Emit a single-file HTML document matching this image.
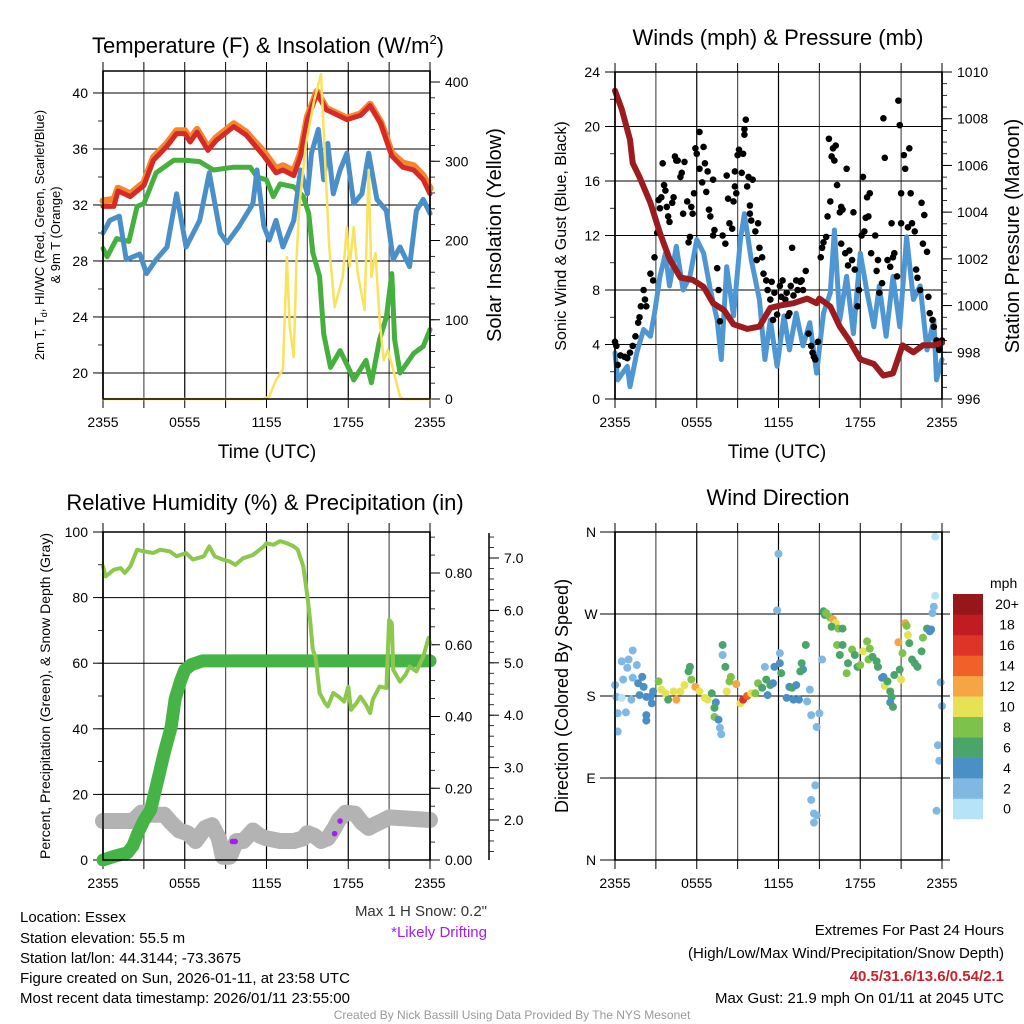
<!DOCTYPE html>
<html><head><meta charset="utf-8"><title>Essex Mesonet Meteogram</title>
<style>
html,body{margin:0;padding:0;background:#fff;}
svg{display:block;font-family:"Liberation Sans",Arial,sans-serif;}
</style></head>
<body>
<svg id="root" width="1024" height="1024" viewBox="0 0 1024 1024" xmlns="http://www.w3.org/2000/svg">
<rect width="1024" height="1024" fill="#fff"/>
<text x="268" y="53" font-size="22" text-anchor="middle">Temperature (F) &amp; Insolation (W/m<tspan font-size="13" dy="-9">2</tspan><tspan dy="9">)</tspan></text>
<text x="778" y="45" font-size="22" text-anchor="middle">Winds (mph) &amp; Pressure (mb)</text>
<text x="265" y="510" font-size="22" text-anchor="middle">Relative Humidity (%) &amp; Precipitation (in)</text>
<text x="778" y="505" font-size="22" text-anchor="middle">Wind Direction</text>
<text x="267" y="458" font-size="19" text-anchor="middle">Time (UTC)</text>
<text x="777" y="458" font-size="19" text-anchor="middle">Time (UTC)</text>
<text transform="translate(44,235) rotate(-90)" font-size="13" text-anchor="middle">2m T, T<tspan font-size="9" dy="3">d</tspan><tspan dy="-3">, HI/WC (Red, Green, Scarlet/Blue)</tspan></text>
<text transform="translate(60,235) rotate(-90)" font-size="13" text-anchor="middle">&amp; 9m T (Orange)</text>
<text transform="translate(501,235) rotate(-90)" font-size="20" text-anchor="middle">Solar Insolation (Yellow)</text>
<text transform="translate(566,236) rotate(-90)" font-size="16" text-anchor="middle">Sonic Wind &amp; Gust (Blue, Black)</text>
<text transform="translate(1019,236) rotate(-90)" font-size="20" text-anchor="middle">Station Pressure (Maroon)</text>
<text transform="translate(50,696) rotate(-90)" font-size="14" text-anchor="middle">Percent, Precipitation (Green), &amp; Snow Depth (Gray)</text>
<text transform="translate(568,696) rotate(-90)" font-size="18" text-anchor="middle">Direction (Colored By Speed)</text>
<g font-size="15">
<text x="20" y="922">Location: Essex</text>
<text x="20" y="943">Station elevation: 55.5 m</text>
<text x="20" y="963">Station lat/lon: 44.3144; -73.3675</text>
<text x="20" y="983">Figure created on Sun, 2026-01-11, at 23:58 UTC</text>
<text x="20" y="1003">Most recent data timestamp: 2026/01/11 23:55:00</text>
</g>
<text x="487" y="916" font-size="15" text-anchor="end" fill="#333">Max 1 H Snow: 0.2"</text>
<text x="487" y="937" font-size="15" text-anchor="end" fill="#a020f0">*Likely Drifting</text>
<g font-size="15" text-anchor="end">
<text x="1004" y="935">Extremes For Past 24 Hours</text>
<text x="1004" y="958">(High/Low/Max Wind/Precipitation/Snow Depth)</text>
<text x="1004" y="981" fill="#c8232a" font-weight="bold">40.5/31.6/13.6/0.54/2.1</text>
<text x="1004" y="1003">Max Gust: 21.9 mph On 01/11 at 2045 UTC</text>
</g>
<text x="512" y="1019" font-size="12" text-anchor="middle" fill="#999">Created By Nick Bassill Using Data Provided By The NYS Mesonet</text>
</svg>
<script>
const xTickLabels=["2355","0555","1155","1755","2355"];
const tempYTicks=[20,24,28,32,36,40];
const solarTicks=[0,100,200,300,400];
const windTicks=[0,4,8,12,16,20,24];
const presTicks=[996,998,1000,1002,1004,1006,1008,1010];
const rhTicks=[0,20,40,60,80,100];
const precipTicks=[0.00,0.20,0.40,0.60,0.80];
const snowTicks=[2.0,3.0,4.0,5.0,6.0,7.0];
const dirTickLabels=["N","E","S","W","N"];
const dirTicks=[0,90,180,270,360];
const legendLabels=["0","2","4","6","8","10","12","14","16","18","20+"];
const legendColors=["#b6e3f6","#7fb9e3","#4a8fc6","#4aa56a","#7dc24a","#e7e155","#f6a544","#ef6128","#dd3427","#c01c22","#96161a"];

const redH=[0,0.8,1.1,2,3,3.7,4.7,5.4,6,6.4,6.9,7.7,8.3,9.6,10.5,11.8,12.7,13.2,14,14.5,15,15.7,16.4,17.9,18.9,19.6,20.4,21.2,22,22.8,23.5,24];
const redT=[31.9,31.9,33,32.6,33.4,35.2,36.2,37.1,37.1,36.5,37.2,35.9,36.6,37.6,37,35.5,34.3,34.5,34.1,35.5,38.1,40,38.8,38.1,38.4,39.1,37.8,35.5,34.7,34.5,33.8,32.8];
const orangeT=[32.3,32.4,33.2,32.8,33.6,35.4,36.4,37.3,37.3,36.7,37.4,36.1,36.8,37.8,37.2,35.8,34.6,34.8,34.4,35.7,38.3,40.1,38.9,38.2,38.5,39.2,37.9,35.7,35,34.8,34.1,33.2];
const greenH=[0,0.3,1,1.9,2.5,3,3.9,5.2,6,7.1,8.1,9.6,10.8,11.3,12,12.5,13,14,14.7,15.1,15.4,15.9,16.2,16.7,17.4,18.1,18.4,19.3,19.7,20.3,20.8,21.2,21.4,21.8,22.8,23.5,24];
const greenT=[28.9,28.3,29.6,29.4,31.9,32.1,34.3,35.2,35.2,35.1,34.5,34.7,34.7,34,33.8,32.6,33.5,33.3,32.6,31.4,28.6,26.9,22.8,20.4,21.6,20.2,19.5,20.9,19.3,22.4,24,27.1,22.4,20,21.4,21.9,23.1];
const blueH=[0,0.5,1.2,1.7,2.7,3.2,3.9,4.7,5.4,6.1,7.1,7.8,8.6,9.1,10,11,11.3,11.8,12.2,12.7,13.2,14,14.5,15,15.3,15.8,16.2,16.5,16.9,17.4,17.9,18.4,19,19.5,20.1,20.8,21.3,21.8,22.5,23,23.5,24];
const blueT=[30,30.9,31.2,28.1,28.5,27.1,28.1,29,32.8,29,30.9,34.3,30,29.3,30.5,32.1,34.5,30.5,29.5,30.9,29,30.9,34.5,32.8,35.7,37.4,33.8,36.4,32.8,34.5,35.7,32.1,32.8,35.7,32.4,31.6,28.1,29,27.6,31.6,32.4,31.4];
const solarH=[0,11.7,12.2,12.7,13.2,13.5,13.7,14,14.2,14.4,14.9,15.5,16,16.3,16.6,17,17.6,17.9,18.1,18.4,18.7,19.2,19.5,19.7,20,20.3,20.6,20.9,21.3,21.8,22,24];
const solarW=[0,0,3,24,37,179,91,53,175,242,322,377,410,301,192,116,154,217,167,217,158,112,289,154,184,100,49,62,37,3,0,0];

const presH=[0,0.5,1.1,1.3,1.8,2.6,3.3,4,4.8,5.7,6.5,7.2,8,8.7,9.7,10.6,11.4,12.1,13.1,14.1,14.8,15,15.8,16.5,17.2,18,19,19.7,20.4,21.1,21.9,22.6,23.4,24];
const presMb=[1009.2,1008.4,1007.1,1006.1,1005.5,1004.4,1003.1,1002,1001.2,1001.1,1000.8,1000.1,999.8,999.2,999,999.1,999.9,1000,1000.1,1000.3,1000.1,1000.3,999.96,999.1,998.5,997.7,997.5,997,997.1,998.3,998,998.3,998.3,998.4];
const sonicH=[0,0.2,0.9,1.1,1.6,2.1,2.6,2.9,3.3,3.7,4,4.5,5,5.5,6,6.5,7,7.5,7.8,8.2,8.7,9.2,9.5,10,10.6,11,11.4,11.9,12.4,12.8,13.3,13.8,14.3,14.8,15.3,15.8,16.1,16.5,17,17.5,18,18.5,19,19.4,19.9,20.4,20.9,21.4,21.9,22.4,22.9,23.4,23.6,24];
const sonicMph=[3.4,1.4,2.4,0.9,3.4,5.1,4.6,6.3,9,10.7,8.3,11.2,8,9,11.7,10.7,8,5.8,2.9,9.7,6.1,11.7,13.6,10.2,7.3,2.9,5.8,2.4,6.1,3.6,6.3,3.9,5.6,1.9,6.3,7.8,12.4,5.8,9,4.8,10.7,7.8,5.3,8.3,4.6,9,5.3,11.9,7.3,8.3,3.6,5.8,1.4,2.9];
const gustH=[0,0.1,0.2,0.4,0.7,0.9,1.1,1.3,1.5,1.7,1.8,1.9,2.1,2.2,2.3,2.6,2.8,2.9,3.1,3.2,3.3,3.4,3.5,3.6,3.7,3.8,3.9,4,4.2,4.3,4.4,4.5,4.6,4.8,4.9,5,5.1,5.3,5.4,5.5,5.6,5.7,5.8,5.9,6,6.2,6.2,6.4,6.5,6.6,6.7,6.8,6.9,7,7.2,7.2,7.3,7.5,7.6,7.7,7.9,8.1,8.2,8.3,8.4,8.6,8.7,8.8,8.8,8.9,9,9.1,9.3,9.4,9.5,9.5,9.6,9.7,9.8,9.9,9.9,10,10.1,10.3,10.4,10.5,10.6,10.8,10.9,11.1,11.2,11.4,11.5,11.6,11.7,11.9,12.1,12.2,12.3,12.5,12.6,12.7,12.8,12.9,13,13.1,13.3,13.4,13.6,13.7,13.8,14,14.2,14.4,14.5,14.6,14.7,14.9,15.1,15.2,15.3,15.5,15.6,15.7,15.8,15.9,16,16.1,16.2,16.3,16.5,16.6,16.6,16.7,16.9,17,17.1,17.2,17.4,17.5,17.6,17.8,17.9,18.1,18.2,18.3,18.4,18.5,18.6,18.7,18.8,19.1,19.2,19.3,19.4,19.6,19.7,19.8,20,20.2,20.3,20.4,20.5,20.7,20.8,20.9,21,21,21.2,21.3,21.5,21.6,21.7,21.8,22,22.1,22.2,22.4,22.5,22.6,22.7,22.9,23,23.1,23.3,23.4,23.6,23.7,23.8,24];
const gustMph=[4.2,3.9,2.5,3.2,3.1,3,3.4,3.9,4.6,5.6,6,6.8,8,7.3,6.8,9.2,8.7,10.4,12.2,14.6,14,14.8,17.3,15.7,15.3,14.1,13.4,13,14.4,14.8,17.8,17.5,17.5,16.3,16.6,13.6,17.4,14.5,11.5,11.9,14.1,13.6,15.1,18.4,18,19.6,16.9,15.9,18.5,17.3,15.2,16.7,13.9,13.4,16.1,12,12.4,9.6,8,5.7,12,11.4,16.4,14.7,12.9,12.5,14.5,16.7,15.6,15.1,17.9,18.3,16.6,18,19.8,19.4,20.5,15.6,16.3,14.2,13.6,13.1,16.1,12.3,10.2,12.9,11.1,10.4,9.2,8.7,8,7.3,8.6,5.8,7.8,6.2,8.3,7.5,8.7,7.3,7.8,6.1,6.3,8.3,11.1,7.6,8.7,8,8.6,8.7,8,9.4,4.8,3.9,3.4,3.1,2.9,4.2,10.4,11.1,11.5,11.9,13.4,19.1,14.5,17.8,18.4,17.5,18.6,15.7,13.7,11.4,14.1,13.9,10.7,16.9,9.8,10.9,10.2,13.7,9.5,6.8,8,12,16.3,12.3,13.3,14.8,13.4,15.1,10.7,12,9.4,10.2,7.8,8.5,20.6,17.7,10.2,9.7,12.9,10.4,10.7,9,21.9,20.1,15.1,12.9,17.9,16.9,12.6,18.4,15.1,12.9,12.3,9.5,8.9,8,14.4,11.4,13.5,10.8,7.5,6.3,5.8,5.3,4.3,3.9,3.6,4.3];

const rhH=[0,0.2,0.8,1.3,1.6,2,2.5,3,3.7,4.2,4.9,5.4,6.1,6.6,7.4,7.8,8.2,8.8,9.3,9.7,10.3,11,11.8,12,12.5,13,13.5,14,14.3,14.7,15,15.2,15.4,15.6,15.9,16.3,16.5,16.9,17.3,17.7,18,18.2,18.6,18.9,19.3,19.6,19.8,20.3,20.8,21,21.2,21.3,21.8,22.2,22.5,23,23.5,23.9,24];
const rhPct=[89.5,86.5,88.5,89,87.5,89.5,94.6,94.1,93.6,94.6,94.1,92.6,93.6,91.6,92.6,95.6,92.6,91.6,91,90,92,93,95.6,96.6,96.1,97.2,96.6,95.6,94.6,89.5,80.4,73.2,64.1,62,50.9,47.8,46.8,50.9,49.8,48.3,52.8,45.8,47.8,49.8,47.3,44.8,48.9,52.9,52.4,73.2,72.2,58,54.4,56.5,59,57.5,62,67.7,66];
const precipH=[0,0.8,1.8,2.2,2.5,3,3.5,4,4.5,5,5.3,5.7,6,6.5,7.3,24];
const precipIn=[0,0.01,0.02,0.04,0.07,0.11,0.14,0.22,0.3,0.37,0.45,0.5,0.53,0.545,0.555,0.555];
const snowH=[0,2.2,2.8,3.5,4.5,5,5.6,6.2,6.8,7.5,8,8.5,8.8,9.3,9.8,10.3,11,11.5,12,13,14,14.7,15,15.5,16,16.5,17,17.3,17.8,18.5,19,19.5,20,20.5,21,24];
const snowIn=[1.98,1.98,2.14,2.1,2.1,1.95,1.8,1.75,1.6,1.85,1.9,1.65,1.3,1.3,1.6,1.6,1.8,1.7,1.65,1.6,1.6,1.65,1.75,1.7,1.6,1.65,1.85,2.0,2.14,2.12,1.95,1.85,1.92,1.98,2.05,2.0];
const driftH=[9.5,9.7,17,17.4];
const driftIn=[1.59,1.59,1.74,1.98];

const dirH=[0,0.1,0.2,0.2,0.5,0.6,0.5,0.8,0.9,1,1.2,1.3,1.3,1.6,1.7,2,2.1,1.8,2.3,2.3,2.3,2.7,2.8,2.6,3.2,3.4,3.7,3.9,4.3,4.5,4.8,5.1,5.4,5.5,5.6,5.9,6.2,6.6,6.8,7.1,7.4,7.3,7.3,7.6,7.7,7.8,7.9,7.9,8.1,8.2,8.5,8.4,8.9,9.2,9.4,9.7,10,10.3,10.5,10.8,11.1,11.4,11.6,11.2,11,11.7,12.1,12.1,12,11.9,12.2,12.6,12.8,13,13.1,13.3,13.5,13.7,13.8,13.6,14,14.3,14.1,14.4,14.8,15,15.2,14.7,14.4,14.6,14.6,14.8,15.3,15.4,15.5,15.8,16,16.2,15.9,16.4,16.7,16.3,16.5,16.7,17,17.1,17.4,17.6,17.8,18,18.2,18.5,18.7,18.6,18.9,19.2,19.3,19.6,19.7,19.8,20,20.2,20.3,20.2,20.4,20.5,20.8,20.9,21,21.1,21.3,21.4,21.5,21.6,21.8,22,22.2,22.5,22.6,22.9,23.1,23.2,23.3,23.4,23.5,23.5,23.9,24,23.7,23.8,23.6];
const dirDeg=[192,179,161,141,218,198,178,162,211,220,176,230,200,214,194,201,190,181,179,159,153,172,185,179,196,187,183,176,185,176,185,192,207,212,198,190,185,178,176,183,173,167,157,154,145,138,225,236,212,185,201,196,193,172,176,180,183,183,194,189,198,192,194,181,212,212,216,227,336,274,205,178,190,189,176,192,176,216,209,207,236,187,174,159,146,161,220,82,66,51,41,49,273,269,271,266,264,260,256,254,254,236,225,236,205,216,231,225,212,214,229,240,232,220,223,218,212,200,201,191,196,185,179,173,168,203,239,209,198,227,260,257,247,238,220,216,212,229,244,254,251,253,271,278,290,355,195,169,126,109,54];
const dirSpd=[2,2,2,2,2,2,0,2,2,2,2,2,2,2,4,4,4,4,4,4,4,4,4,4,8,10,10,6,10,12,10,10,6,6,8,13,10,10,10,6,4,6,8,4,2,2,2,6,6,10,8,8,12,10,16,14,10,8,8,6,6,6,4,4,2,4,4,2,2,2,6,4,4,6,4,4,4,6,4,6,6,2,2,2,2,2,2,2,2,2,2,2,6,6,8,8,12,10,6,8,6,8,6,6,8,6,8,6,6,8,10,8,8,8,6,6,6,4,4,10,6,6,6,4,6,6,12,6,10,8,12,8,10,6,6,6,6,6,8,6,4,4,2,2,0,0,2,2,2,2,2];

const NS="http://www.w3.org/2000/svg";
const root=document.getElementById('root');
function mk(tag,attrs,parent){const e=document.createElementNS(NS,tag);for(const k in attrs)e.setAttribute(k,attrs[k]);(parent||root).appendChild(e);return e;}
function lin(d0,d1,r0,r1){return v=>r0+(v-d0)*(r1-r0)/(d1-d0);}
function path(xs,ys,sx,sy){return xs.map((h,i)=>(i?'L':'M')+sx(h).toFixed(1)+','+sy(ys[i]).toFixed(1)).join('');}

function frame(P,name){
  const g=mk('g',{});
  
  
  return g;
}
function vgrid(g,P,sx){
  for(let h=0;h<=24;h+=3){
    const x=sx(h);
    const l=mk('line',{x1:x,y1:P.y0,x2:x,y2:P.y1,stroke:(h%6===0)?'#000':'#555','stroke-width':(h===0||h===24)?1.5:1.2},g);
    
    
    const t1=mk('line',{x1:x,y1:P.y1,x2:x,y2:P.y1+9,stroke:'#000','stroke-width':1},g);
    
    
    const t2=mk('line',{x1:x,y1:P.y0,x2:x,y2:P.y0-9,stroke:'#000','stroke-width':1},g);
    
    
  }
  xTickLabels.forEach((lab,i)=>{
    const t=mk('text',{x:sx(i*6),y:P.y1+28,'font-size':14,'text-anchor':'middle'},g);
    t.textContent=lab;
    
    
  });
}
function hgrid(g,P,sy,ticks,fmt,minorStep,lo,hi,side){
  ticks.forEach(v=>{
    const y=sy(v);
    const l=mk('line',{x1:P.x0,y1:y,x2:P.x1,y2:y,stroke:'#000','stroke-width':1},g);
    
    
  });
  yAxis(g,P,sy,ticks,fmt,minorStep,lo,hi,side);
}
function yAxis(g,P,sy,ticks,fmt,minorStep,lo,hi,side){
  const x=side==='left'?P.x0:P.x1, dir=side==='left'?-1:1;
  for(let v=lo;v<=hi+1e-9;v+=minorStep){
    const y=sy(v); if(y<P.y0-0.5||y>P.y1+0.5)continue;
    const t=mk('line',{x1:x,y1:y,x2:x+dir*5,y2:y,stroke:'#000','stroke-width':0.8},g);
    
    
  }
  ticks.forEach(v=>{
    const y=sy(v);
    const t=mk('line',{x1:x,y1:y,x2:x+dir*10,y2:y,stroke:'#000','stroke-width':1},g);
    
    
    const tx=mk('text',{x:x+dir*15,y:y+5,'font-size':14,'text-anchor':side==='left'?'end':'start'},g);
    tx.textContent=fmt(v);
    
    
  });
}
function border(g,P){
  const r=mk('rect',{x:P.x0,y:P.y0,width:P.x1-P.x0,height:P.y1-P.y0,fill:'none',stroke:'#000','stroke-width':1.5},g);
  
  
}
function line(g,xs,ys,sx,sy,color,w,name){
  const p=mk('path',{d:path(xs,ys,sx,sy),fill:'none',stroke:color,'stroke-width':w,'stroke-linejoin':'round','stroke-linecap':'round'},g);
  
  
  return p;
}

(function(){
  const P={x0:103,y0:71,x1:430,y1:399};
  const sx=lin(0,24,P.x0,P.x1), sy=lin(18.14,41.57,P.y1,P.y0), ss=lin(0,400,P.y1,82);
  const g=frame(P,'temperature');
  vgrid(g,P,sx);
  hgrid(g,P,sy,tempYTicks,v=>v,2,18,41,'left');
  yAxis(g,P,ss,solarTicks,v=>v,20,0,420,'right');
  line(g,redH,orangeT,sx,sy,'#f4862e',7,'9m-temperature-line');
  line(g,redH,redT,sx,sy,'#d62a26',5,'2m-temperature-line');
  line(g,greenH,greenT,sx,sy,'#46b03e',5,'dewpoint-line');
  line(g,blueH,blueT,sx,sy,'#4a8fc8',5,'wind-chill-line');
  line(g,solarH,solarW,sx,ss,'#f9e25c',2.5,'solar-insolation-line');
  border(g,P);
})();

(function(){
  const P={x0:615,y0:72,x1:942,y1:399};
  const sx=lin(0,24,P.x0,P.x1), sy=lin(0,24,P.y1,P.y0), sp=lin(996,1010,P.y1,P.y0);
  const g=frame(P,'winds');
  vgrid(g,P,sx);
  hgrid(g,P,sy,windTicks,v=>v,2,0,24,'left');
  yAxis(g,P,sp,presTicks,v=>v,0.5,996,1010,'right');
  line(g,sonicH,sonicMph,sx,sy,'#4f97d2',5,'sonic-wind-line');
  gustH.forEach((h,i)=>{
    const c=mk('circle',{cx:sx(h),cy:sy(gustMph[i]),r:3.3,fill:'#000'},g);
    
    
  });
  line(g,presH,presMb,sx,sp,'#9b1b1e',6,'station-pressure-line');
  border(g,P);
})();

(function(){
  const P={x0:103,y0:532,x1:430,y1:860};
  const sx=lin(0,24,P.x0,P.x1), sy=lin(0,100,P.y1,P.y0), sr=lin(0,0.8,P.y1,573), sn=lin(2,7,820,558);
  const g=frame(P,'humidity');
  vgrid(g,P,sx);
  hgrid(g,P,sy,rhTicks,v=>v,10,0,100,'left');
  yAxis(g,P,sr,precipTicks,v=>v.toFixed(2),0.05,0,0.92,'right');
  const Q={x0:P.x0,y0:P.y0,x1:489,y1:P.y1};
  const al=mk('line',{x1:489,y1:533,x2:489,y2:860,stroke:'#000','stroke-width':1.5},g);
  
  
  yAxis(g,Q,sn,snowTicks,v=>v.toFixed(1),0.2,1.2,7.4,'right');
  line(g,snowH,snowIn,sx,sn,'#b3b3b3',16,'snow-depth-line');
  line(g,precipH,precipIn,sx,sr,'#46b346',13,'precipitation-line');
  line(g,rhH,rhPct,sx,sy,'#8cc84b',4,'relative-humidity-line');
  driftH.forEach((h,i)=>{
    const c=mk('circle',{cx:sx(h),cy:sn(driftIn[i]),r:2.8,fill:'#a020f0'},g);
    
    
  });
  border(g,P);
})();

(function(){
  const P={x0:615,y0:532,x1:942,y1:860};
  const sx=lin(0,24,P.x0,P.x1), sy=lin(0,360,P.y1,P.y0);
  const g=frame(P,'wind-direction');
  vgrid(g,P,sx);
  dirTicks.forEach((v,i)=>{
    const y=sy(v);
    const l=mk('line',{x1:600,y1:y,x2:950,y2:y,stroke:'#000','stroke-width':1},g);
    
    
    const t=mk('text',{x:591,y:y+5,'font-size':14,'text-anchor':'middle'},g);
    t.textContent=dirTickLabels[i];
    
    
  });
  dirH.forEach((h,i)=>{
    const idx=Math.min(10,Math.floor(dirSpd[i]/2));
    const c=mk('circle',{cx:sx(h),cy:sy(dirDeg[i]),r:4,fill:legendColors[idx]},g);
    
    
  });
  border(g,P);
  const lg=mk('g',{});
  
  
  const t=mk('text',{x:990,y:588,'font-size':14},lg);
  t.textContent='mph';
  
  
  const top=594,bh=20.45;
  legendColors.forEach((c,i)=>{
    const y=top+(10-i)*bh;
    const r=mk('rect',{x:953,y:y,width:30,height:bh+0.3,fill:c},lg);
    
    
    const tx=mk('text',{x:1007,y:y+bh/2+5,'font-size':14,'text-anchor':'middle'},lg);
    tx.textContent=legendLabels[i];
    
    
  });
})();
</script>
</body></html>
